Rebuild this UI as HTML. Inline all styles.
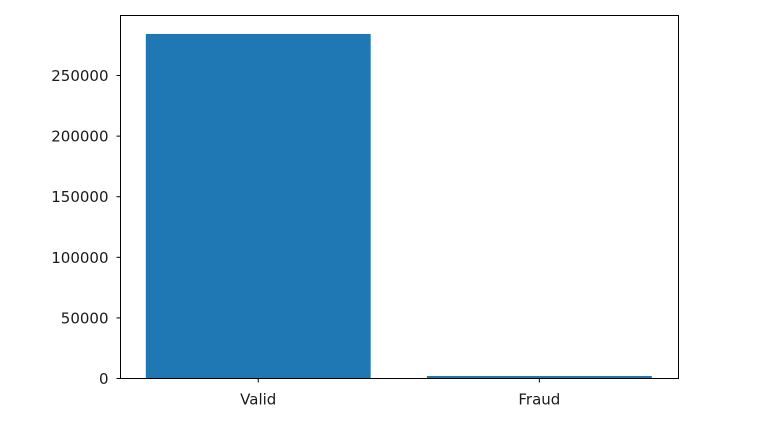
<!DOCTYPE html>
<html><head><meta charset="utf-8"><style>
body{margin:0;background:#fff;}
svg text{font-family:"DejaVu Sans","Liberation Sans",sans-serif;font-size:15px;fill:#1a1a1a;}
</style></head><body>
<svg id="chart" width="768" height="436">
<g id="bars"></g>
<rect x="120.5" y="15.5" width="558" height="363" fill="none" stroke="#000" stroke-width="1"/>
<g id="axes"></g>
</svg>
<script>
const categories = ["Valid", "Fraud"];
const counts = [284315, 492];
const yTicks = [0, 50000, 100000, 150000, 200000, 250000];

const L = 120.5, R = 678.5, T = 15.5, B = 378.5;
const xMin = -0.49, xMax = 1.495;
const yMin = 0, yMax = 299531;
const xs = v => L + (v - xMin) / (xMax - xMin) * (R - L);
const ys = v => B - (v - yMin) / (yMax - yMin) * (B - T);
const NS = "http://www.w3.org/2000/svg";
const bars = document.getElementById("bars");
const axes = document.getElementById("axes");

categories.forEach((c, i) => {
  const r = document.createElementNS(NS, "rect");
  const x0 = xs(i - 0.4), x1 = xs(i + 0.4);
  const h = Math.max(ys(0) - ys(counts[i]), 2.5);
  r.setAttribute("x", x0);
  r.setAttribute("width", x1 - x0);
  r.setAttribute("y", ys(0) - h);
  r.setAttribute("height", h);
  r.setAttribute("fill", "#1f77b4");
  
  
  bars.appendChild(r);

  const tk = document.createElementNS(NS, "line");
  tk.setAttribute("x1", xs(i)); tk.setAttribute("x2", xs(i));
  tk.setAttribute("y1", B); tk.setAttribute("y2", B + 4);
  tk.setAttribute("stroke", "#000");
  
  
  axes.appendChild(tk);

  const t = document.createElementNS(NS, "text");
  t.setAttribute("x", xs(i)); t.setAttribute("y", B + 26);
  t.setAttribute("text-anchor", "middle");
  t.textContent = c;
  
  
  axes.appendChild(t);
});

yTicks.forEach(v => {
  const tk = document.createElementNS(NS, "line");
  tk.setAttribute("x1", L - 4); tk.setAttribute("x2", L);
  tk.setAttribute("y1", ys(v)); tk.setAttribute("y2", ys(v));
  tk.setAttribute("stroke", "#000");
  
  
  axes.appendChild(tk);

  const t = document.createElementNS(NS, "text");
  t.setAttribute("x", L - 12); t.setAttribute("y", ys(v) + 5.5);
  t.setAttribute("text-anchor", "end");
  t.textContent = String(v);
  
  
  axes.appendChild(t);
});
</script>
</body></html>
